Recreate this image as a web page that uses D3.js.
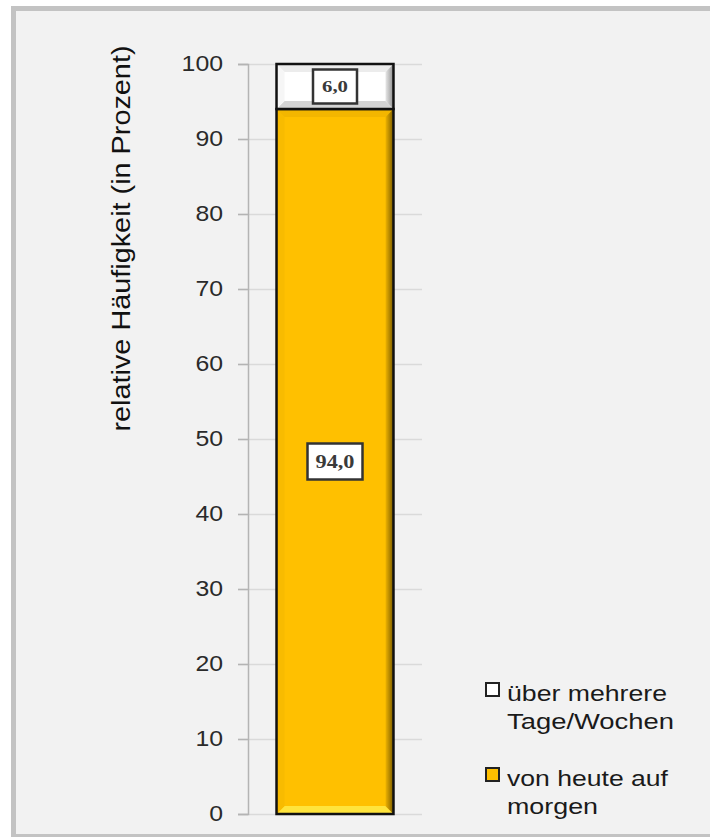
<!DOCTYPE html>
<html>
<head>
<meta charset="utf-8">
<script src="https://cdn.jsdelivr.net/npm/d3@7"></script>
<style>
  html, body { margin: 0; padding: 0; background: #fff; }
  svg { display: block; }
</style>
</head>
<body>
<svg id="chart" width="710" height="837"></svg>
<script>
// ---- data ----
const categories = ["Gesamt"];
const seriesNames = ["von heute auf morgen", "über mehrere Tage/Wochen"];
const seriesValues = [[94.0], [6.0]];
const valueLabels = [["94,0"], ["6,0"]];
const yTicks = [0, 10, 20, 30, 40, 50, 60, 70, 80, 90, 100];
const legendLines = [["über mehrere", "Tage/Wochen"], ["von heute auf", "morgen"]];
const yTitle = "relative Häufigkeit (in Prozent)";

const SANS = "Arial, 'Liberation Sans', sans-serif";
const SERIF = "'Times New Roman', 'Liberation Serif', serif";

const svg = d3.select("#chart");
const defs = svg.append("defs");

// frame
svg.append("rect").attr("x", 13.5).attr("y", 8.5).attr("width", 710).attr("height", 828)
  .attr("fill", "#f2f2f2").attr("stroke", "#c3c3c3").attr("stroke-width", 5);

const plotL = 248, plotR = 422, plotT = 64, plotB = 814;
const y = d3.scaleLinear().domain([0, 100]).range([plotB, plotT]);
const x = d3.scaleBand().domain(categories).range([plotL, plotR]).paddingInner(0.196).paddingOuter(0.196);

// gridlines
svg.append("g").selectAll("line").data(yTicks).join("line")
  .attr("x1", plotL - 10).attr("x2", plotR)
  .attr("y1", d => Math.round(y(d)) + 0.5).attr("y2", d => Math.round(y(d)) + 0.5)
  .attr("stroke", "#dadada").attr("stroke-width", 1.5);

// axis
const yAxis = d3.axisLeft(y).tickValues(yTicks).tickSize(10).tickPadding(15).tickFormat(d3.format("d"));
const ag = svg.append("g").attr("transform", `translate(${plotL},0)`).call(yAxis);
ag.select(".domain").attr("stroke", "#b4b4b4").attr("stroke-width", 1.5);
ag.selectAll(".tick line").attr("stroke", "#b4b4b4").attr("stroke-width", 1.5);
ag.selectAll(".tick text").attr("font-family", SANS)
  .attr("font-size", 21.5).attr("fill", "#2a2a2a")
  .attr("textLength", function () { return this.textContent.length * 13.8; })
  .attr("lengthAdjust", "spacingAndGlyphs");

// axis title
svg.append("text")
  .attr("transform", `translate(130,238.5) rotate(-90)`)
  .attr("text-anchor", "middle")
  .attr("font-family", SANS)
  .attr("font-size", 25).attr("fill", "#111")
  .attr("textLength", 386).attr("lengthAdjust", "spacingAndGlyphs")
  .text(yTitle);

// gradients
function hGrad(id, stops) {
  const g = defs.append("linearGradient").attr("id", id).attr("x1", 0).attr("x2", 1).attr("y1", 0).attr("y2", 0);
  stops.forEach(s => g.append("stop").attr("offset", s[0]).attr("stop-color", s[1]));
}
hGrad("yellowR", [[0, "#eeb200"], [1, "#7a5c00"]]);
hGrad("whiteR", [[0, "#e8e8e8"], [1, "#8f8f8f"]]);

const fills = ["#FFC000", "#FFFFFF"];
const bevel = [
  { top: "#f3b600", bottom: "#ffe43c", left: "#f8bb00", right: "url(#yellowR)" },
  { top: "#ececec", bottom: "#d4d4d4", left: "#f6f6f6", right: "url(#whiteR)" }
];

// stacked bars
const stacked = [];
let acc = 0;
seriesValues.forEach((vals, i) => {
  const v = vals[0];
  stacked.push({ i, y0: acc, y1: acc + v, label: valueLabels[i][0] });
  acc += v;
});

const bw = x.bandwidth();
const bx = x(categories[0]);
const bv = 8;
stacked.forEach(s => {
  const top = y(s.y1), bot = y(s.y0);
  const g = svg.append("g");
  g.append("rect").attr("x", bx).attr("y", top).attr("width", bw).attr("height", bot - top).attr("fill", fills[s.i]);
  const L = bx, R = bx + bw;
  const poly = pts => pts.map(p => p.join(",")).join(" ");
  g.append("polygon").attr("points", poly([[L, top], [R, top], [R - bv, top + bv], [L + bv, top + bv]])).attr("fill", bevel[s.i].top);
  g.append("polygon").attr("points", poly([[L, bot], [R, bot], [R - bv, bot - bv], [L + bv, bot - bv]])).attr("fill", bevel[s.i].bottom);
  g.append("polygon").attr("points", poly([[L, top], [L + bv, top + bv], [L + bv, bot - bv], [L, bot]])).attr("fill", bevel[s.i].left);
  g.append("polygon").attr("points", poly([[R, top], [R - bv, top + bv], [R - bv, bot - bv], [R, bot]])).attr("fill", bevel[s.i].right);
  g.append("rect").attr("x", bx).attr("y", top).attr("width", bw).attr("height", bot - top)
    .attr("fill", "none").attr("stroke", "#111").attr("stroke-width", 2.5);
});

// value labels
stacked.forEach(s => {
  const cy = (y(s.y0) + y(s.y1)) / 2;
  const cx = bx + bw / 2;
  const big = s.i === 0;
  const w = big ? 55 : 44, h = big ? 36 : 34;
  svg.append("rect").attr("x", cx - w / 2).attr("y", cy - h / 2).attr("width", w).attr("height", h)
    .attr("fill", "#fff").attr("stroke", "#333").attr("stroke-width", 2.5);
  svg.append("text").attr("x", cx).attr("y", cy).attr("dy", "0.36em").attr("text-anchor", "middle")
    .attr("font-family", SERIF).attr("font-weight", "bold")
    .attr("font-size", big ? 18 : 16).attr("fill", "#3a3a3a")
    .attr("textLength", big ? 39 : 26).attr("lengthAdjust", "spacingAndGlyphs")
    .text(s.label);
});

// legend
const legY = [690, 775];
const legFill = ["#FFFFFF", "#FFC000"];
const legWidths = [[160, 167], [161, 91]];
legendLines.forEach((lines, i) => {
  svg.append("rect").attr("x", 486).attr("y", legY[i] - 7).attr("width", 13).attr("height", 13)
    .attr("fill", legFill[i]).attr("stroke", "#222").attr("stroke-width", 2);
  lines.forEach((t, j) => {
    svg.append("text").attr("x", 507).attr("y", legY[i] + 11 + j * 28)
      .attr("font-family", SANS).attr("font-size", 22)
      .attr("textLength", legWidths[i][j]).attr("lengthAdjust", "spacingAndGlyphs")
      .attr("fill", "#1a1a1a").text(t);
  });
});
</script>
</body>
</html>
